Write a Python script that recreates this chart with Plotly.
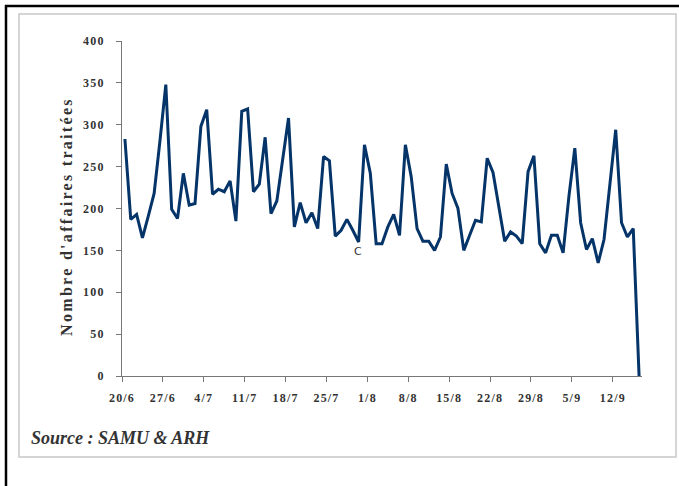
import plotly.graph_objects as go

# Daily values (20/6 -> 16/9)
values = [283, 187, 193, 165, 191, 218, 281, 348, 199, 188,
          242, 204, 206, 298, 318, 217, 223, 220, 233, 185,
          316, 319, 220, 229, 285, 194, 209, 256, 308, 178,
          207, 183, 195, 176, 262, 257, 167, 174, 187, 174,
          160, 276, 242, 158, 158, 178, 193, 168, 276, 238,
          176, 161, 161, 150, 166, 253, 218, 200, 150, 168,
          186, 184, 260, 243, 202, 161, 172, 167, 158, 244,
          263, 158, 147, 168, 168, 147, 215, 272, 183, 151,
          164, 135, 163, 228, 294, 183, 166, 176, 0]
day_index = list(range(len(values)))
tick_labels = ["20/6", "27/6", "4/7", "11/7", "18/7", "25/7", "1/8",
               "8/8", "15/8", "22/8", "29/8", "5/9", "12/9"]
tick_positions = [-0.5 + 7 * k for k in range(len(tick_labels))]
y_ticks = [0, 50, 100, 150, 200, 250, 300, 350, 400]

serif = "Liberation Serif, Times New Roman, serif"

L, T, W, H = 122, 41, 520, 335  # plot area in pixels


def px(x):
    return (x - L) / W


def py(y):
    return (T + H - y) / H


fig = go.Figure()
fig.add_trace(go.Scatter(x=day_index, y=values, mode="lines",
                         line=dict(color="#053469", width=3),
                         hoverinfo="skip", showlegend=False))

axis_font = dict(family=serif, size=12, color="#333333", weight="bold")

fig.update_layout(
    width=679, height=486,
    margin=dict(l=L, r=679 - L - W, t=T, b=486 - T - H),
    paper_bgcolor="white", plot_bgcolor="white",
    xaxis=dict(range=[-0.5, len(values) - 0.5], tickvals=tick_positions,
               ticktext=tick_labels, showgrid=False, zeroline=False,
               showline=True, linecolor="#777777", linewidth=1,
               ticks="outside", ticklen=5, tickcolor="#777777",
               ticklabelstandoff=6, tickfont=axis_font),
    yaxis=dict(range=[0, 400], tickvals=y_ticks, showgrid=False,
               zeroline=False, showline=True, linecolor="#777777",
               linewidth=1, ticks="outside", ticklen=5,
               tickcolor="#777777", ticklabelstandoff=9,
               tickfont=axis_font),
    shapes=[
        dict(type="line", xref="paper", yref="paper",
             x0=px(5), x1=px(679), y0=py(6), y1=py(6),
             line=dict(color="black", width=2.5)),
        dict(type="line", xref="paper", yref="paper",
             x0=px(6), x1=px(6), y0=py(5), y1=py(490),
             line=dict(color="black", width=2.5)),
        dict(type="rect", xref="paper", yref="paper",
             x0=px(19), x1=px(676), y0=py(14), y1=py(457),
             line=dict(color="#c8c8c8", width=1.5)),
    ],
    annotations=[
        dict(text="<b>Nombre d'affaires traitées</b>", textangle=-90,
             xref="paper", yref="paper", x=px(66), y=py(217),
             xanchor="center", yanchor="middle", showarrow=False,
             font=dict(family=serif, size=16, color="#333333")),
        dict(text="<b><i>Source : SAMU &amp; ARH</i></b>", xref="paper",
             yref="paper", x=px(29), y=py(438), xanchor="left",
             yanchor="middle", showarrow=False,
             font=dict(family=serif, size=18, color="#333333")),
        dict(text="C", xref="paper", yref="paper", x=px(358), y=py(252),
             xanchor="center", yanchor="middle", showarrow=False,
             font=dict(family="DejaVu Sans", size=11, color="#333333")),
    ],
)

fig.write_html("out.html", config={"displayModeBar": False})

# remove default page margin and add letter spacing like the original
css = ("<style>body{margin:0;padding:0;}"
       ".xtick text,.ytick text{letter-spacing:1.2px;}"
       "g.annotation[data-index='0'] text{letter-spacing:2.3px;}</style>")
with open("out.html", encoding="utf-8") as f:
    html = f.read()
html = html.replace("<head>", "<head>" + css, 1)
with open("out.html", "w", encoding="utf-8") as f:
    f.write(html)
